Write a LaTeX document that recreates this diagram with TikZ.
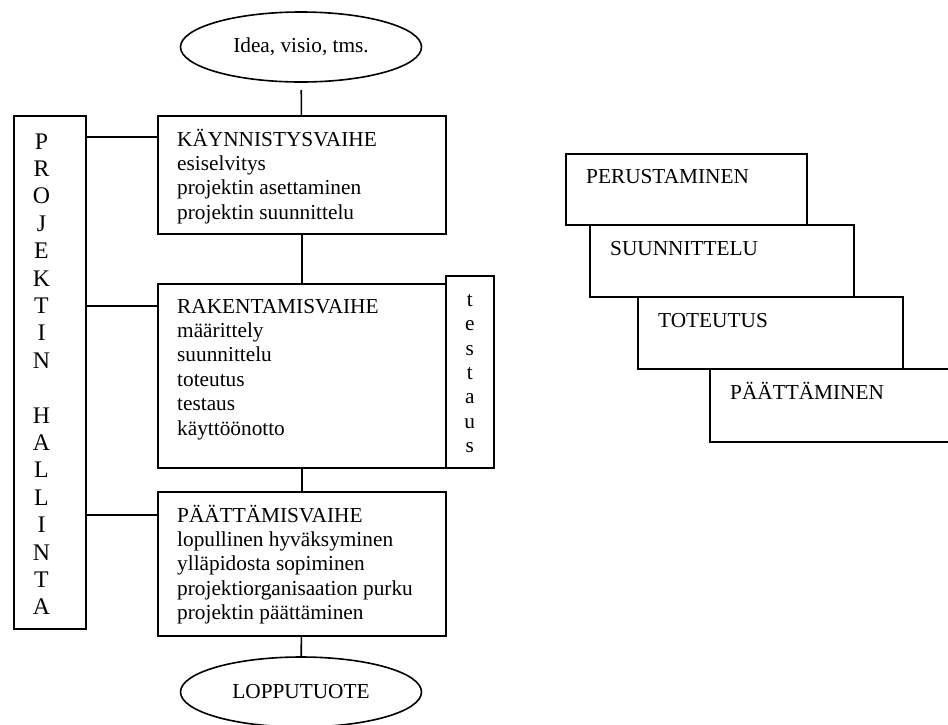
\documentclass[tikz,border=0pt]{standalone}
\usepackage{fontspec}
\setmainfont{Liberation Serif}
\usetikzlibrary{shapes.geometric}
\tikzset{
  box/.style={draw, line width=1.6pt, rectangle, inner sep=0pt, anchor=north west},
  oval/.style={draw, line width=1.6pt, ellipse, inner sep=0pt, minimum width=241pt, minimum height=70pt, font=\fontsize{21.3}{24.4}\selectfont},
  link/.style={draw, line width=1.6pt},
  txt/.style={inner sep=0pt, align=left, anchor=base west, font=\fontsize{21.3}{24.4}\selectfont},
  pysty/.style={inner sep=0pt, align=center, anchor=base, font=\fontsize{21.3}{24.3}\selectfont},
}

\begin{document}
\begin{tikzpicture}[x=1pt,y=-1pt]
\useasboundingbox (0,0) rectangle (948,724);
\clip (0,0) rectangle (948,724);

% vaiheet (base = viimeisen rivin perusviiva)
\node[oval] (idea) at (301,47) {Idea, visio, tms.};
\node[box, minimum width=288pt, minimum height=118pt] (kayn) at (157,115) {};
\node[box, minimum width=288pt, minimum height=184pt] (rak) at (157,283) {};
\node[box, minimum width=288pt, minimum height=144pt] (paat) at (157,491) {};
\node[box, minimum width=48pt, minimum height=192pt] (testaus) at (445,275) {};
\node[oval] (tuote) at (301,692) {LOPPUTUOTE};

\node[txt] (kayntxt) at ([shift={(20,104.2)}]kayn.north west)
  {KÄYNNISTYSVAIHE\\esiselvitys\\projektin asettaminen\\projektin suunnittelu};
\node[txt] (raktxt) at ([shift={(20,152)}]rak.north west)
  {RAKENTAMISVAIHE\\määrittely\\suunnittelu\\toteutus\\testaus\\käyttöönotto};
\node[txt] (paattxt) at ([shift={(20,128.6)}]paat.north west)
  {PÄÄTTÄMISVAIHE\\lopullinen hyväksyminen\\ylläpidosta sopiminen\\projektiorganisaation purku\\projektin päättäminen};
\node[pysty] (testaustxt) at ([yshift=-177.3pt]testaus.north) {t\\e\\s\\t\\a\\u\\s};

\draw[link, shorten <=7pt] (idea) -- (kayn);
\draw[link] (kayn) -- (rak);
\draw[link] (rak) -- (paat);
\draw[link] (paat) -- (tuote);

% projektin hallinta
\node[box, minimum width=72pt, minimum height=513pt] (hallinta) at (13,115) {};
\node[pysty, font=\fontsize{23.8}{27.4}\selectfont] (hallintatxt) at ([shift={(28.5,499.8)}]hallinta.north west)
  {P\\R\\O\\J\\E\\K\\T\\I\\N\\[27.4pt]H\\A\\L\\L\\I\\N\\T\\A};
\coordinate (h1) at ([yshift=-22pt]kayn.north west);
\coordinate (h2) at ([yshift=-23pt]rak.north west);
\coordinate (h3) at ([yshift=-24pt]paat.north west);
\draw[link] (h1) -- (h1 -| hallinta.east);
\draw[link] (h2) -- (h2 -| hallinta.east);
\draw[link] (h3) -- (h3 -| hallinta.east);

% portaat
\node[box, minimum width=241pt, minimum height=71pt] (perus) at (565,153) {};
\node[box, minimum width=264pt, minimum height=72pt] (suun) at (589,224) {};
\node[box, minimum width=265pt, minimum height=72pt] (tot) at (637,296) {};
\node[box, minimum width=260pt, minimum height=73pt] (paatt) at (709,368) {};
\node[txt] (perustxt) at ([shift={(21,30)}]perus.north west) {PERUSTAMINEN};
\node[txt] (suuntxt) at ([shift={(21,31)}]suun.north west) {SUUNNITTELU};
\node[txt] (tottxt) at ([shift={(21,31)}]tot.north west) {TOTEUTUS};
\node[txt] (paatttxt) at ([shift={(21,31)}]paatt.north west) {PÄÄTTÄMINEN};
\end{tikzpicture}
\end{document}
